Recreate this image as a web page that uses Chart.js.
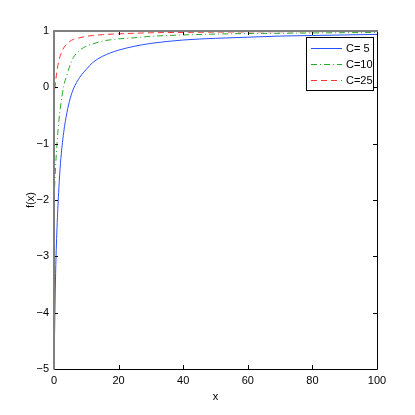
<!DOCTYPE html>
<html>
<head>
<meta charset="utf-8">
<script src="https://cdn.jsdelivr.net/npm/chart.js@4/dist/chart.umd.min.js"></script>
<style>
    html, body { margin: 0; padding: 0; background: #fff; }
    #wrap { width: 415px; height: 415px; }
</style>
</head>
<body>
<div id="wrap"><canvas id="fchart" width="415" height="415"></canvas></div>
<script>
// values
const xs = [0, 0.5, 1, 1.5, 2, 3, 4, 5, 6, 8, 10, 12, 15, 20, 25, 30, 40, 50, 60, 70, 80, 90, 100];
const c5 = [-5, -3.3, -2.4, -1.8, -1.35, -0.8, -0.45, -0.2, -0.03, 0.18, 0.32, 0.44, 0.55, 0.66, 0.73, 0.78, 0.84, 0.87, 0.89, 0.91, 0.92, 0.93, 0.94];
const c10 = [-2, -1.4, -0.95, -0.6, -0.35, 0.02, 0.22, 0.4, 0.53, 0.66, 0.73, 0.77, 0.82, 0.86, 0.88, 0.905, 0.93, 0.945, 0.955, 0.96, 0.965, 0.97, 0.975];
const c25 = [-0.2, 0.1, 0.32, 0.47, 0.57, 0.7, 0.77, 0.82, 0.85, 0.88, 0.905, 0.92, 0.935, 0.95, 0.96, 0.968, 0.975, 0.98, 0.984, 0.987, 0.988, 0.99, 0.99];
const seriesLabels = ['C= 5', 'C=10', 'C=25'];
const xTicks = [0, 20, 40, 60, 80, 100];
const yTicks = [-5, -4, -3, -2, -1, 0, 1];

const FONT = '"Liberation Sans Narrow", "Liberation Sans", Arial, sans-serif';

function pts(ys) {
    return xs.map(function (x, i) { return { x: x, y: ys[i] }; });
}

// box, inward ticks and legend, matlab style
const matlabBox = {
    id: 'matlabBox',
    afterDraw(chart) {
        const ctx = chart.ctx;
        const a = chart.chartArea;
        const sx = chart.scales.x, sy = chart.scales.y;
        ctx.save();
        ctx.lineWidth = 1;
        ctx.strokeStyle = '#000';
        ctx.beginPath();
        xTicks.forEach(function (t) {
            const px = Math.round(sx.getPixelForValue(t)) + 0.5;
            ctx.moveTo(px, a.bottom); ctx.lineTo(px, a.bottom - 4);
            ctx.moveTo(px, a.top); ctx.lineTo(px, a.top + 4);
        });
        yTicks.forEach(function (t) {
            const py = Math.round(sy.getPixelForValue(t)) + 0.5;
            ctx.moveTo(a.left, py); ctx.lineTo(a.left + 4, py);
            ctx.moveTo(a.right, py); ctx.lineTo(a.right - 4, py);
        });
        ctx.stroke();

        ctx.beginPath();
        ctx.moveTo(a.left, a.bottom + 0.5); ctx.lineTo(a.right + 0.5, a.bottom + 0.5);
        ctx.lineTo(a.right + 0.5, a.top);
        ctx.stroke();
        ctx.strokeStyle = '#808080';
        ctx.lineWidth = 2;
        ctx.beginPath();
        ctx.moveTo(a.left, a.bottom + 0.5); ctx.lineTo(a.left, a.top);
        ctx.lineTo(a.right + 1, a.top);
        ctx.stroke();

        // legend
        const lx = 306, ly = 37, lw = 67, lh = 53;
        ctx.fillStyle = '#fff';
        ctx.fillRect(lx, ly, lw, lh);
        ctx.strokeStyle = '#000';
        ctx.lineWidth = 1;
        ctx.strokeRect(lx + 0.5, ly + 0.5, lw, lh);
        ctx.font = '11px ' + FONT;
        ctx.textBaseline = 'middle';
        ctx.fillStyle = '#000';
        chart.data.datasets.forEach(function (ds, i) {
            const yy = ly + 11.5 + i * 16;
            ctx.strokeStyle = ds.borderColor;
            ctx.setLineDash(ds.borderDash || []);
            ctx.beginPath();
            ctx.moveTo(lx + 5, yy); ctx.lineTo(lx + 36, yy);
            ctx.stroke();
            ctx.setLineDash([]);
            ctx.fillText(seriesLabels[i], lx + 40, yy);
        });
        ctx.restore();
    }
};

const data = {
    datasets: [{
        label: seriesLabels[0],
        data: pts(c5),
        borderColor: 'rgb(40, 80, 255)',
        borderWidth: 1,
        pointRadius: 0,
        cubicInterpolationMode: 'monotone'
    }, {
        label: seriesLabels[1],
        data: pts(c10),
        borderColor: 'rgb(40, 170, 40)',
        borderDash: [6, 3, 1, 3],
        borderWidth: 1,
        pointRadius: 0,
        cubicInterpolationMode: 'monotone'
    }, {
        label: seriesLabels[2],
        data: pts(c25),
        borderColor: 'rgb(255, 50, 50)',
        borderDash: [6, 4],
        borderWidth: 1,
        pointRadius: 0,
        cubicInterpolationMode: 'monotone'
    }]
};

const config = {
    type: 'line',
    data: data,
    options: {
        responsive: false,
        animation: false,
        events: [],
        layout: { padding: { left: 0, top: 31, right: 38, bottom: 0 } },
        scales: {
            x: {
                type: 'linear',
                min: 0,
                max: 100,
                afterFit: function (s) { s.height = 46; },
                grid: { display: false, drawTicks: false },
                border: { display: false },
                ticks: {
                    stepSize: 20,
                    padding: 5,
                    color: '#000',
                    font: { family: FONT, size: 11 }
                },
                title: {
                    display: true,
                    text: 'x',
                    color: '#000',
                    padding: { top: 0, bottom: 11 },
                    font: { family: FONT, size: 11 }
                }
            },
            y: {
                min: -5,
                max: 1,
                afterFit: function (s) { s.width = 54; },
                grid: { display: false, drawTicks: false },
                border: { display: false },
                ticks: {
                    stepSize: 1,
                    padding: 5,
                    color: '#000',
                    font: { family: FONT, size: 11 },
                    callback: function (v) { return String(v).replace('-', '\u2212'); }
                },
                title: {
                    display: true,
                    text: 'f(x)',
                    color: '#000',
                    padding: { top: 24, bottom: 0 },
                    font: { family: FONT, size: 11 }
                }
            }
        },
        plugins: {
            legend: { display: false },
            tooltip: { enabled: false }
        }
    },
    plugins: [matlabBox]
};

var myChart = new Chart(document.getElementById('fchart'), config);
</script>
</body>
</html>
